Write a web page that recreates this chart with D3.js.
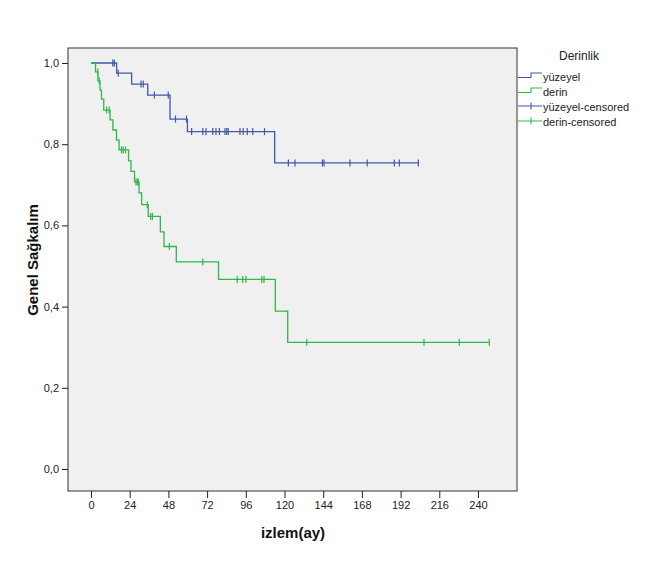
<!DOCTYPE html>
<html>
<head>
<meta charset="utf-8">
<script src="https://cdn.jsdelivr.net/npm/d3@7"></script>
<style>
  html, body { margin: 0; padding: 0; background: #fff; }
  svg { display: block; font-family: "Liberation Sans", Arial, sans-serif; }
</style>
</head>
<body>
<svg id="chart" width="655" height="563"></svg>
<script>
// ---- data ----
const xTicks = [0, 24, 48, 72, 96, 120, 144, 168, 192, 216, 240];
const yTicks = [0, 0.2, 0.4, 0.6, 0.8, 1.0];
const legendTitle = "Derinlik";
const legendLabels = ["yüzeyel", "derin", "yüzeyel-censored", "derin-censored"];
const xTitle = "izlem(ay)";
const yTitle = "Genel Sağkalım";

const yuzeyelEventTimes = [15.9, 25.2, 35.2, 49.0, 59.8, 113.9];
const yuzeyelSurvival   = [0.975, 0.948, 0.921, 0.862, 0.831, 0.754];
const yuzeyelCensorTimes = [13.5, 14.5, 16.9, 31.0, 32.4, 39.3, 47.9, 52.4, 59.2,
  62.4, 69.3, 71.3, 75.5, 77.5, 79.6, 83.1, 84.2, 85.1, 92.4, 94.4, 96.9, 100.3, 107.6,
  122.4, 126.5, 143.5, 144.5, 160.6, 171.3, 188.1, 191.2, 203.0];

const derinEventTimes = [2.8, 4.3, 5.6, 6.5, 7.9, 11.8, 13.6, 15.8, 17.4, 23.3, 24.8,
  27.0, 29.8, 31.4, 35.5, 43.0, 45.3, 52.9, 79.1, 114.3, 122.0];
const derinSurvival = [0.978, 0.956, 0.933, 0.911, 0.884, 0.860, 0.835, 0.810, 0.786,
  0.759, 0.733, 0.707, 0.680, 0.651, 0.622, 0.584, 0.548, 0.510, 0.467, 0.389, 0.312];
const derinCensorTimes = [4.2, 5.1, 9.7, 11.3, 18.9, 20.0, 21.4, 27.9, 28.7, 29.3, 34.9,
  37.0, 38.1, 48.6, 69.3, 90.7, 94.1, 96.1, 105.9, 107.3, 133.8, 206.5, 228.4, 247.0];

const colors = ["#3E58AC", "#2EB848"];

// ---- layout ----
const svg = d3.select("#chart");
const box = { left: 68, right: 517, top: 48, bottom: 491 };
const x = d3.scaleLinear().domain([0, 240]).range([91, 478]);
const y = d3.scaleLinear().domain([0, 1]).range([469, 63]);

svg.append("rect")
  .attr("x", box.left).attr("y", box.top)
  .attr("width", box.right - box.left).attr("height", box.bottom - box.top)
  .attr("fill", "#f0f0f0").attr("stroke", "#333").attr("stroke-width", 1);

// y axis
const yAxis = d3.axisLeft(y).tickValues(yTicks).tickSize(6).tickPadding(3)
  .tickFormat(d => d3.format(".1f")(d).replace(".", ","));
const gy = svg.append("g").attr("transform", `translate(${box.left},0)`).call(yAxis);
gy.select(".domain").remove();
gy.selectAll(".tick line").attr("stroke", "#222");
gy.selectAll(".tick text").attr("font-size", 11).attr("fill", "#222")
  .attr("font-family", "Liberation Sans, Arial, sans-serif");

// x axis
const xAxis = d3.axisBottom(x).tickValues(xTicks).tickSize(7).tickPadding(3)
  .tickFormat(d3.format("d"));
const gx = svg.append("g").attr("transform", `translate(0,${box.bottom})`).call(xAxis);
gx.select(".domain").remove();
gx.selectAll(".tick line").attr("stroke", "#222");
gx.selectAll(".tick text").attr("font-size", 11).attr("fill", "#222")
  .attr("font-family", "Liberation Sans, Arial, sans-serif");

// axis titles
svg.append("text").attr("x", 293).attr("y", 538).attr("text-anchor", "middle")
  .attr("font-size", 15).attr("font-weight", "bold").attr("fill", "#111").text(xTitle);
svg.append("text").attr("transform", "translate(38,260) rotate(-90)")
  .attr("text-anchor", "middle").attr("font-size", 15).attr("font-weight", "bold")
  .attr("fill", "#111").text(yTitle);

// curves
function stepPoints(times, surv, censors) {
  const end = Math.max(d3.max(censors), d3.max(times));
  const pts = [[0, 1]];
  times.forEach((t, i) => pts.push([t, surv[i]]));
  pts.push([end, surv[surv.length - 1]]);
  return pts;
}
function survAt(times, surv, t) {
  let s = 1;
  times.forEach((ti, i) => { if (ti <= t) s = surv[i]; });
  return s;
}
const series = [
  { times: yuzeyelEventTimes, surv: yuzeyelSurvival, cens: yuzeyelCensorTimes, color: colors[0] },
  { times: derinEventTimes, surv: derinSurvival, cens: derinCensorTimes, color: colors[1] }
];
const line = d3.line().x(d => x(d[0])).y(d => y(d[1])).curve(d3.curveStepAfter);

series.forEach(s => {
  svg.append("path").datum(stepPoints(s.times, s.surv, s.cens))
    .attr("d", line).attr("fill", "none").attr("stroke", s.color).attr("stroke-width", 1.3);
  svg.append("g").selectAll("line").data(s.cens).join("line")
    .attr("x1", d => x(d)).attr("x2", d => x(d))
    .attr("y1", d => y(survAt(s.times, s.surv, d)) - 3.5)
    .attr("y2", d => y(survAt(s.times, s.surv, d)) + 3.5)
    .attr("stroke", s.color).attr("stroke-width", 1.2);
});

// legend
svg.append("text").attr("x", 579).attr("y", 59.5).attr("text-anchor", "middle")
  .attr("font-size", 12).attr("fill", "#222").text(legendTitle);
const lx0 = 518, lx1 = 531, lx2 = 542;
legendLabels.forEach((lab, i) => {
  const b = 80.5 + i * 15;
  const c = colors[i % 2];
  if (i < 2) {
    svg.append("path")
      .attr("d", `M${lx0},${b - 3}H${lx1}V${b - 7.5}H${lx2}`)
      .attr("fill", "none").attr("stroke", c).attr("stroke-width", 1.1);
  } else {
    svg.append("path")
      .attr("d", `M${lx0},${b - 4.5}H${lx2}M${lx1},${b - 8}V${b - 1}`)
      .attr("fill", "none").attr("stroke", c).attr("stroke-width", 1.1);
  }
  svg.append("text").attr("x", 543).attr("y", b).attr("font-size", 11)
    .attr("fill", "#222").text(lab);
});
</script>
</body>
</html>
